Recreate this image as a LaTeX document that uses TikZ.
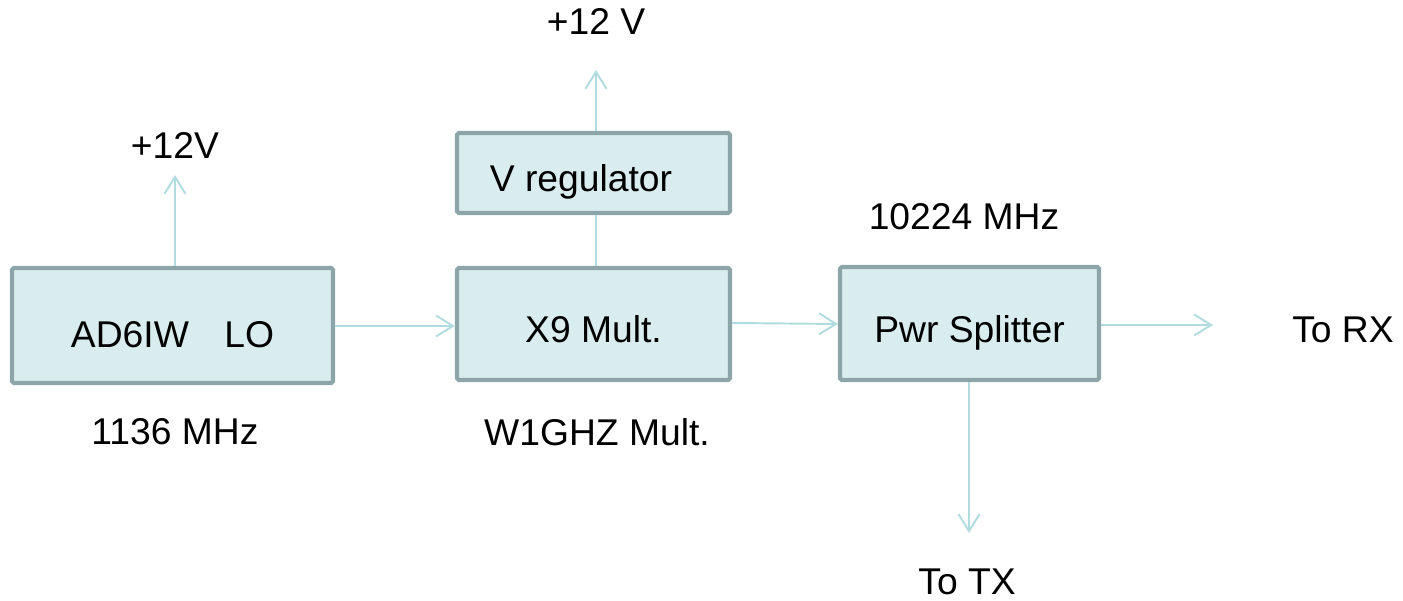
\documentclass[tikz,border=0pt]{standalone}
\usepackage{fontspec}
\setmainfont{Liberation Sans}
\usepackage{xcolor}
\definecolor{boxfill}{HTML}{DAEDEE}
\definecolor{boxedge}{HTML}{8CA5A8}
\definecolor{wire}{HTML}{B0DCE0}
\usetikzlibrary{arrows.meta}

\begin{document}
\begin{tikzpicture}[
    font=\fontsize{21.2}{25}\selectfont,
    block/.style={draw=boxedge, fill=boxfill, line width=2.4pt, rounded corners=1pt, inner sep=0pt, text height=0.76cm, text depth=0cm},
    feed/.style={draw=wire, line width=1.1pt, -{Straight Barb[length=0.34cm, width=0.42cm, line width=1.1pt]}},
    lead/.style={draw=wire, line width=1.1pt}
  ]
            \useasboundingbox (0,0) rectangle (28.06,12.02);

            % Blocks
            \node[block, minimum width=6.42cm, minimum height=2.3cm, text height=0.88cm] (lo) at (3.45,5.51) {AD6IW\hspace{0.95em}LO};
            \node[block, minimum width=5.46cm, minimum height=2.24cm] (mult) at (11.87,5.54) {X9 Mult.};
            \node[block, minimum width=5.46cm, minimum height=1.6cm] (reg) at (11.87,8.56) {V regulator\hspace{0.5cm}\mbox{}};
            \node[block, minimum width=5.18cm, minimum height=2.26cm] (split) at (19.39,5.55) {Pwr Splitter};

            % Labels
            \node (lov) at (3.5,9.1) {+12V};
            \node (regv) at (11.92,11.58) {+12 V};
            \node (lof) at (3.5,3.38) {1136 MHz};
            \node (multn) at (11.94,3.38) {W1GHZ Mult.};
            \node (splitf) at (19.28,7.68) {10224 MHz};
            \node (rx) at (26.86,5.42) {To RX};
            \node (tx) at (19.34,0.38) {To TX};

            % Free ends of the arrows
            \coordinate (loup) at (3.5,8.52);
            \coordinate (regup) at (11.92,10.62);
            \coordinate (rxend) at (24.26,5.52);
            \coordinate (txend) at (19.38,1.36);

            % Connections
            \draw[feed] (lo.north -| loup) -- (loup);
            \draw[feed] (reg.north -| regup) -- (regup);
            \draw[lead] (mult.north -| regup) -- (reg.south -| regup);
            \draw[feed] (lo.east |- 0,5.5) -- (mult.west |- 0,5.5);
            \draw[feed] (mult.east |- 0,5.56) -- (split.west |- 0,5.54);
            \draw[feed] (split.east |- rxend) -- (rxend);
            \draw[feed] (split.south -| txend) -- (txend);
        \end{tikzpicture}
\end{document}
